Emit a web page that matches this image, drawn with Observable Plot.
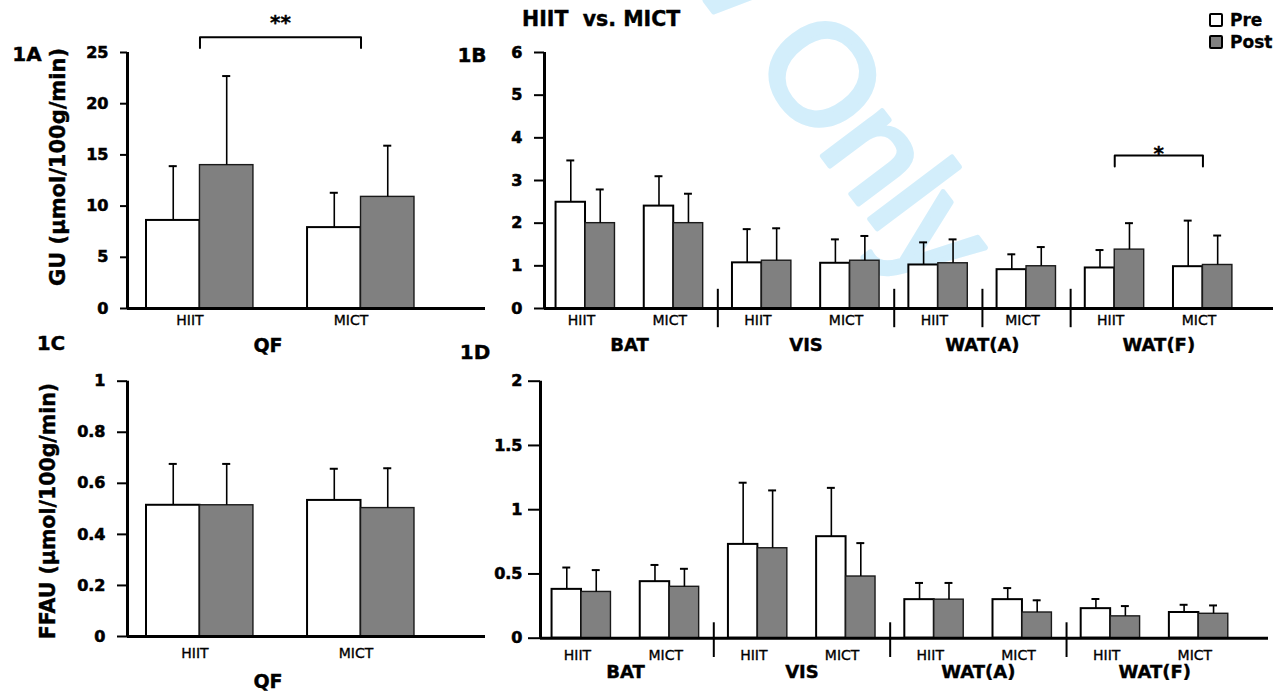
<!DOCTYPE html>
<html>
<head>
<meta charset="utf-8">
<script src="https://cdn.jsdelivr.net/npm/d3@7"></script>
<script src="https://cdn.jsdelivr.net/npm/@observablehq/plot@0.6"></script>
<style>
  html, body { margin: 0; padding: 0; background: #fff; }
  #root { position: relative; width: 1281px; height: 691px; overflow: hidden; font-family: "DejaVu Sans", sans-serif; color: #000; }
  .pnl { position: absolute; }
  .lbl { position: absolute; font-family: "DejaVu Sans", sans-serif; font-weight: bold; white-space: pre; line-height: 1; transform: translate(-50%, -50%); -webkit-text-stroke: 0.4px #000; }
  .ylab { position: absolute; font-family: "DejaVu Sans", sans-serif; font-weight: bold; white-space: pre; line-height: 1; transform: translate(-50%, -50%) rotate(-90deg); -webkit-text-stroke: 0.4px #000; }
  .leg { position: absolute; left: 1209px; font-family: "DejaVu Sans", sans-serif; font-weight: bold; font-size: 17px; line-height: 1; display: flex; align-items: center; -webkit-text-stroke: 0.3px #000; }
  .sw { width: 10px; height: 10px; border: 2px solid #000; border-radius: 2px; margin-right: 7px; }
  #root .pnl svg text { font-family: "DejaVu Sans", sans-serif; }
  #root .pnl svg g[aria-label="y-axis tick label"] text { font-weight: bold !important; font-size: 16px !important; stroke: #000; stroke-width: 0.6px; }
  #root .pnl svg g[aria-label="x-axis tick label"] text { font-size: 14px !important; font-weight: normal !important; stroke: #000; stroke-width: 0.35px; }
  #root .pnl svg g[aria-label="text"] text { stroke: #000; stroke-width: 0.4px; }
</style>
</head>
<body>
<div id="root"></div>
<script>
// ---------------- data ----------------
const phases = ["Pre", "Post"];

// 1A / 1C : quadriceps femoris (QF)
const qfGroups = ["HIIT", "MICT"];
const guQFPre = [8.6, 7.9];
const guQFPreSD = [5.3, 3.4];
const guQFPost = [14.0, 10.9];
const guQFPostSD = [8.7, 5.0];
const ffauQFPre = [0.514, 0.533];
const ffauQFPreSD = [0.162, 0.124];
const ffauQFPost = [0.514, 0.503];
const ffauQFPostSD = [0.162, 0.156];

// 1B / 1D : adipose tissues
const tissues = ["BAT", "VIS", "WAT(A)", "WAT(F)"];
const tissueGroups = ["HIIT", "MICT", "HIIT", "MICT", "HIIT", "MICT", "HIIT", "MICT"];
const guTisPre = [2.49, 2.40, 1.07, 1.06, 1.02, 0.91, 0.95, 0.98];
const guTisPreSD = [0.98, 0.70, 0.79, 0.56, 0.53, 0.36, 0.42, 1.08];
const guTisPost = [2.00, 2.00, 1.12, 1.12, 1.06, 0.99, 1.38, 1.02];
const guTisPostSD = [0.79, 0.69, 0.76, 0.58, 0.56, 0.45, 0.62, 0.69];
const ffauTisPre = [0.38, 0.44, 0.73, 0.79, 0.30, 0.30, 0.23, 0.20];
const ffauTisPreSD = [0.17, 0.13, 0.48, 0.38, 0.13, 0.09, 0.075, 0.06];
const ffauTisPost = [0.36, 0.40, 0.70, 0.48, 0.30, 0.20, 0.17, 0.19];
const ffauTisPostSD = [0.17, 0.14, 0.45, 0.26, 0.13, 0.095, 0.08, 0.065];

// tick values
const guQFTicks = [0, 5, 10, 15, 20, 25];
const guTisTicks = [0, 1, 2, 3, 4, 5, 6];
const ffauQFTicks = [0, 0.2, 0.4, 0.6, 0.8, 1];
const ffauTisTicks = [0, 0.5, 1, 1.5, 2];

// separators placed after these group indices
const sepB = [1, 3, 4, 5];
const sepD = [1, 3, 5];

// significance brackets
const sigA = [{from: 0, to: 1, label: "**"}];
const sigB = [{from: 6, to: 7, label: "*"}];

// ---------------- drawing ----------------
const root = document.getElementById("root");
const FONT = "DejaVu Sans";

function panel(o) {
  const w = o.barW;
  const rows = [];
  o.pre.forEach((m, i) => rows.push({i, phase: phases[0], mean: m, top: m + o.preSD[i], x1: i - w, x2: i, xc: i - w / 2}));
  o.post.forEach((m, i) => rows.push({i, phase: phases[1], mean: m, top: m + o.postSD[i], x1: i, x2: i + w, xc: i + w / 2}));
  const preRows = rows.filter(d => d.phase === "Pre");
  const postRows = rows.filter(d => d.phase === "Post");
  const marks = [
    Plot.rect(preRows, {x1: "x1", x2: "x2", y1: 0, y2: "mean", fill: "#ffffff", stroke: "#000", strokeWidth: 2}),
    Plot.rect(postRows, {x1: "x1", x2: "x2", y1: 0, y2: "mean", fill: "#808080", stroke: "#1a1a1a", strokeWidth: 1.4}),
    Plot.ruleX(rows, {x: "xc", y1: "mean", y2: "top", stroke: "#000", strokeWidth: 1.6}),
    Plot.ruleY(rows, {y: "top", x1: d => d.xc - o.cap, x2: d => d.xc + o.cap, stroke: "#000", strokeWidth: 2}),
    Plot.ruleY([0], {stroke: "#000", strokeWidth: 3}),
    Plot.ruleX([o.xDom[0]], {stroke: "#000", strokeWidth: 3}),
    Plot.axisY({ticks: o.yTicks, tickFormat: d => String(d), tickSize: o.tickSize, tickPadding: o.tickPad,
      stroke: "#000", strokeWidth: 2, fontSize: 16, fontWeight: "bold", fontFamily: FONT, label: null}),
    Plot.axisX({ticks: d3.range(o.groups.length), tickFormat: i => o.groups[i], tickSize: 0, tickPadding: o.xPad,
      dx: o.xDx || 0, fontSize: 14, fontFamily: FONT, label: null})
  ];
  if (o.seps) {
    marks.push(Plot.ruleX(o.seps, {x: d => d + 0.5, y1: o.sepY[0], y2: o.sepY[1], stroke: "#000", strokeWidth: 2}));
  }
  if (o.tissues) {
    marks.push(Plot.text(o.tissues, {x: (d, k) => 2 * k + 0.5, frameAnchor: "bottom", dy: o.tissueDy,
      text: d => d, fontSize: 18, fontWeight: "bold", fontFamily: FONT, fill: "#000"}));
  }
  if (o.sig) {
    const yt = o.sigY[0], yb = o.sigY[1];
    const pts = [];
    o.sig.forEach((s, k) => {
      pts.push({k, x: s.from, y: yb}, {k, x: s.from, y: yt}, {k, x: s.to, y: yt}, {k, x: s.to, y: yb});
    });
    marks.push(Plot.line(pts, {x: "x", y: "y", z: "k", stroke: "#000", strokeWidth: 2}));
    marks.push(Plot.text(o.sig, {x: d => (d.from + d.to) / 2, y: () => yt, dy: o.sigDy, text: "label",
      fontSize: 20, fontWeight: "bold", fontFamily: FONT, fill: "#000"}));
  }
  const svg = Plot.plot({
    width: o.width, height: o.height,
    marginLeft: o.mL, marginRight: o.mR, marginTop: o.mT, marginBottom: o.mB,
    x: {type: "linear", domain: o.xDom},
    y: {type: "linear", domain: o.yDom},
    style: {background: "transparent", overflow: "visible", fontFamily: FONT, color: "#000"},
    marks
  });
  const div = document.createElement("div");
  div.className = "pnl";
  div.style.left = o.left + "px";
  div.style.top = o.top + "px";
  div.appendChild(svg);
  root.appendChild(div);
}

// watermark (behind the charts)
const wm = d3.select(root).append("svg")
  .attr("width", 1281).attr("height", 691)
  .style("position", "absolute").style("left", "0px").style("top", "0px");
const wg = wm.append("g").attr("transform", "translate(750,60) rotate(53)");
const wmStyle = "font-family:'Liberation Sans';font-size:142px;fill:#d3eefb;stroke:#d3eefb;stroke-width:5;stroke-linejoin:round";
wg.append("text").attr("x", -39).attr("y", 0).attr("text-anchor", "end").attr("style", wmStyle).text("For Peer Review");
wg.append("text").attr("x", 0).attr("y", 0).attr("style", wmStyle).text("Only");

// 1A
panel({
  left: 0, top: 0, width: 490, height: 360, mL: 127, mR: 5, mT: 52, mB: 52,
  xDom: [-0.450, 1.773], yDom: [0, 25], yTicks: guQFTicks, tickSize: 7, tickPad: 12, xPad: 7, xDx: -10,
  groups: qfGroups, barW: 0.332, cap: 0.025,
  pre: guQFPre, preSD: guQFPreSD, post: guQFPost, postSD: guQFPostSD,
  sig: sigA, sigY: [26.5, 25.45], sigDy: -15
});
// 1C
panel({
  left: 0, top: 360, width: 490, height: 331, mL: 127, mR: 5, mT: 20.7, mB: 55,
  xDom: [-0.450, 1.773], yDom: [0, 1], yTicks: ffauQFTicks, tickSize: 10, tickPad: 12, xPad: 12, xDx: -5,
  groups: qfGroups, barW: 0.332, cap: 0.025,
  pre: ffauQFPre, preSD: ffauQFPreSD, post: ffauQFPost, postSD: ffauQFPostSD
});
// 1B
panel({
  left: 430, top: 0, width: 851, height: 360, mL: 114, mR: 8, mT: 52, mB: 52,
  xDom: [-0.465, 7.800], yDom: [0, 6], yTicks: guTisTicks, tickSize: 10, tickPad: 12, xPad: 7, xDx: -4,
  groups: tissueGroups, barW: 0.334, cap: 0.045,
  pre: guTisPre, preSD: guTisPreSD, post: guTisPost, postSD: guTisPostSD,
  seps: sepB, sepY: [-0.45, 0.45], tissues: tissues, tissueDy: 42,
  sig: sigB, sigY: [3.585, 3.33], sigDy: -2
});
// 1D
panel({
  left: 430, top: 360, width: 851, height: 331, mL: 110, mR: 13, mT: 20.7, mB: 53.3,
  xDom: [-0.465, 7.79], yDom: [0, 2], yTicks: ffauTisTicks, tickSize: 12, tickPad: 6, xPad: 12, xDx: -4,
  groups: tissueGroups, barW: 0.334, cap: 0.045,
  pre: ffauTisPre, preSD: ffauTisPreSD, post: ffauTisPost, postSD: ffauTisPostSD,
  seps: sepD, sepY: [-0.15, 0.12], tissues: tissues, tissueDy: 40
});

// HTML labels
function label(text, x, y, size, cls) {
  const d = document.createElement("div");
  d.className = cls || "lbl";
  d.style.left = x + "px";
  d.style.top = y + "px";
  d.style.fontSize = size + "px";
  d.textContent = text;
  root.appendChild(d);
  return d;
}
label("1A", 27, 54, 20);
label("1B", 472, 55, 20);
label("1C", 51, 343, 20);
label("1D", 475, 352, 20);
label("QF", 268, 345, 19);
label("QF", 268, 681, 19);
label("GU (µmol/100g/min)", 58, 167, 21, "ylab");
label("FFAU (µmol/100g/min)", 48, 511, 20.5, "ylab");
const t = label("HIIT  vs. MICT", 522, 19, 20.5);
t.style.transform = "translate(0, -50%)";

// legend
[["Pre", "#ffffff", 20], ["Post", "#808080", 42]].forEach(([name, fill, cy]) => {
  const row = document.createElement("div");
  row.className = "leg";
  row.style.top = (cy - 9) + "px";
  row.style.height = "18px";
  const sw = document.createElement("div");
  sw.className = "sw";
  sw.style.background = fill;
  row.appendChild(sw);
  const tx = document.createElement("span");
  tx.textContent = name;
  row.appendChild(tx);
  root.appendChild(row);
});
</script>
</body>
</html>
